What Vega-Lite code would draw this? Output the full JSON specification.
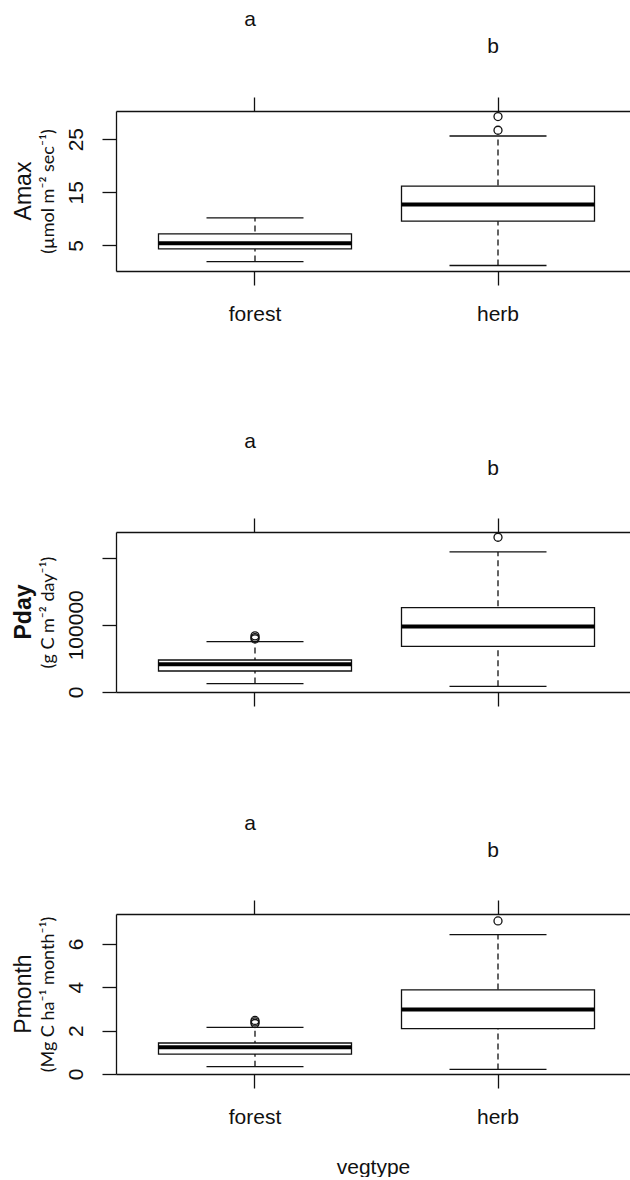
{
  "$schema": "https://vega.github.io/schema/vega-lite/v6.json",
  "padding": {"left": 12, "top": 9, "right": 0, "bottom": 0},
  "spacing": 106,
  "background": "white",
  "config": {
    "view": {"stroke": null},
    "font": "Liberation Sans",
    "axis": {
      "domainColor": "#111", "domainWidth": 1.3,
      "tickColor": "#111", "tickWidth": 1.3, "tickSize": 14,
      "labelColor": "#111", "labelFontSize": 21, "labelFont": "Liberation Sans",
      "titleColor": "#111", "grid": false, "labelFlush": false, "labelOverlap": false
    },
    "axisY": {
      "orient": "left", "labelAngle": -90, "labelAlign": "center", "labelBaseline": "alphabetic", "labelPadding": 20,
      "titleFont": "Lato", "titleFontSize": 18, "titleFontWeight": "normal", "titlePadding": 12, "titleBaseline": "alphabetic"
    }
  },
  "datasets": {
    "amax_stats": [
      {"vegtype": "forest", "lower": 1.98, "q1": 4.36, "median": 5.43, "q3": 7.19, "upper": 10.2},
      {"vegtype": "herb", "lower": 1.23, "q1": 9.58, "median": 12.73, "q3": 16.18, "upper": 25.6}
    ],
    "amax_out": [
      {"vegtype": "herb", "value": 26.68},
      {"vegtype": "herb", "value": 29.25}
    ],
    "amax_letters": [
      {"vegtype": "forest", "letter": "a", "y": 46.2},
      {"vegtype": "herb", "letter": "b", "y": 41.2}
    ],
    "pday_stats": [
      {"vegtype": "forest", "lower": 12500, "q1": 31250, "median": 41200, "q3": 47600, "upper": 75000},
      {"vegtype": "herb", "lower": 8500, "q1": 68000, "median": 97300, "q3": 125600, "upper": 208300}
    ],
    "pday_out": [
      {"vegtype": "forest", "value": 79000},
      {"vegtype": "forest", "value": 81000},
      {"vegtype": "forest", "value": 83500},
      {"vegtype": "herb", "value": 230200}
    ],
    "pday_letters": [
      {"vegtype": "forest", "letter": "a", "y": 363000},
      {"vegtype": "herb", "letter": "b", "y": 323500}
    ],
    "pmonth_stats": [
      {"vegtype": "forest", "lower": 0.34, "q1": 0.92, "median": 1.23, "q3": 1.43, "upper": 2.15},
      {"vegtype": "herb", "lower": 0.21, "q1": 2.09, "median": 2.98, "q3": 3.88, "upper": 6.43}
    ],
    "pmonth_out": [
      {"vegtype": "forest", "value": 2.33},
      {"vegtype": "forest", "value": 2.4},
      {"vegtype": "forest", "value": 2.47},
      {"vegtype": "herb", "value": 7.06}
    ],
    "pmonth_letters": [
      {"vegtype": "forest", "letter": "a", "y": 11.25},
      {"vegtype": "herb", "letter": "b", "y": 10.02}
    ]
  },
  "vconcat": [
    {
      "width": 514, "height": 160,
      "title": {"text": "Amax", "orient": "left", "frame": "group", "anchor": "middle", "fontSize": 23, "fontWeight": "normal", "font": "Liberation Sans", "color": "#111", "baseline": "alphabetic", "offset": -15},
      "data": {"name": "amax_stats"},
      "resolve": {"axis": {"x": "independent"}},
      "layer": [
        {
          "mark": {"type": "rule", "strokeDash": [6, 4], "strokeWidth": 1.3, "color": "#111"},
          "encoding": {
            "x": {"field": "vegtype", "type": "nominal", "scale": {"type": "band", "domain": ["forest", "herb"], "paddingInner": 0, "paddingOuter": 0.0576, "align": 0.625},
                  "axis": {"orient": "bottom", "title": null, "labelAngle": 0, "labelPadding": 18}},
            "y": {"field": "lower", "type": "quantitative", "scale": {"domain": [0.2, 30.3], "nice": false, "zero": false},
                  "axis": {"values": [5, 10, 15, 20, 25, 30], "labelExpr": "datum.value % 10 == 5 ? datum.label : ''", "title": "(µmol m⁻² sec⁻¹)"}},
            "y2": {"field": "upper"}
          }
        },
        {
          "mark": {"type": "bar", "width": 193, "fill": "white", "stroke": "#111", "strokeWidth": 1.3},
          "encoding": {
            "x": {"field": "vegtype", "type": "nominal", "axis": {"orient": "top", "labels": false, "title": null}},
            "y": {"field": "q1", "type": "quantitative"},
            "y2": {"field": "q3"}
          }
        },
        {
          "mark": {"type": "tick", "size": 193, "thickness": 4, "color": "#000", "opacity": 1},
          "encoding": {
            "x": {"field": "vegtype", "type": "nominal", "axis": null},
            "y": {"field": "median", "type": "quantitative"}
          }
        },
        {
          "mark": {"type": "tick", "size": 97, "thickness": 1.3, "color": "#111", "opacity": 1},
          "encoding": {
            "x": {"field": "vegtype", "type": "nominal", "axis": null},
            "y": {"field": "lower", "type": "quantitative"}
          }
        },
        {
          "mark": {"type": "tick", "size": 97, "thickness": 1.3, "color": "#111", "opacity": 1},
          "encoding": {
            "x": {"field": "vegtype", "type": "nominal", "axis": null},
            "y": {"field": "upper", "type": "quantitative"}
          }
        },
        {
          "data": {"name": "amax_out"},
          "mark": {"type": "point", "shape": "circle", "filled": false, "size": 64, "strokeWidth": 1.3, "color": "#111", "opacity": 1},
          "encoding": {
            "x": {"field": "vegtype", "type": "nominal", "axis": null},
            "y": {"field": "value", "type": "quantitative"}
          }
        },
        {
          "data": {"name": "amax_letters"},
          "mark": {"type": "text", "fontSize": 21, "baseline": "alphabetic", "align": "center", "dx": -5, "color": "#111"},
          "encoding": {
            "x": {"field": "vegtype", "type": "nominal", "axis": null},
            "y": {"field": "y", "type": "quantitative"},
            "text": {"field": "letter"}
          }
        }
      ]
    },
    {
      "width": 514, "height": 160,
      "title": {"text": "Pday", "orient": "left", "frame": "group", "anchor": "middle", "fontSize": 23, "fontWeight": "bold", "font": "Liberation Sans", "color": "#111", "baseline": "alphabetic", "offset": -15},
      "data": {"name": "pday_stats"},
      "resolve": {"axis": {"x": "independent"}},
      "layer": [
        {
          "mark": {"type": "rule", "strokeDash": [6, 4], "strokeWidth": 1.3, "color": "#111"},
          "encoding": {
            "x": {"field": "vegtype", "type": "nominal", "scale": {"type": "band", "domain": ["forest", "herb"], "paddingInner": 0, "paddingOuter": 0.0576, "align": 0.625},
                  "axis": {"orient": "bottom", "title": null, "labels": false}},
            "y": {"field": "lower", "type": "quantitative", "scale": {"domain": [0, 238000], "nice": false, "zero": false},
                  "axis": {"values": [0, 50000, 100000, 150000, 200000], "labelExpr": "datum.value == 0 || datum.value == 100000 ? format(datum.value, 'd') : ''", "title": "(g C m⁻² day⁻¹)"}},
            "y2": {"field": "upper"}
          }
        },
        {
          "mark": {"type": "bar", "width": 193, "fill": "white", "stroke": "#111", "strokeWidth": 1.3},
          "encoding": {
            "x": {"field": "vegtype", "type": "nominal", "axis": {"orient": "top", "labels": false, "title": null}},
            "y": {"field": "q1", "type": "quantitative"},
            "y2": {"field": "q3"}
          }
        },
        {
          "mark": {"type": "tick", "size": 193, "thickness": 4, "color": "#000", "opacity": 1},
          "encoding": {
            "x": {"field": "vegtype", "type": "nominal", "axis": null},
            "y": {"field": "median", "type": "quantitative"}
          }
        },
        {
          "mark": {"type": "tick", "size": 97, "thickness": 1.3, "color": "#111", "opacity": 1},
          "encoding": {
            "x": {"field": "vegtype", "type": "nominal", "axis": null},
            "y": {"field": "lower", "type": "quantitative"}
          }
        },
        {
          "mark": {"type": "tick", "size": 97, "thickness": 1.3, "color": "#111", "opacity": 1},
          "encoding": {
            "x": {"field": "vegtype", "type": "nominal", "axis": null},
            "y": {"field": "upper", "type": "quantitative"}
          }
        },
        {
          "data": {"name": "pday_out"},
          "mark": {"type": "point", "shape": "circle", "filled": false, "size": 64, "strokeWidth": 1.3, "color": "#111", "opacity": 1},
          "encoding": {
            "x": {"field": "vegtype", "type": "nominal", "axis": null},
            "y": {"field": "value", "type": "quantitative"}
          }
        },
        {
          "data": {"name": "pday_letters"},
          "mark": {"type": "text", "fontSize": 21, "baseline": "alphabetic", "align": "center", "dx": -5, "color": "#111"},
          "encoding": {
            "x": {"field": "vegtype", "type": "nominal", "axis": null},
            "y": {"field": "y", "type": "quantitative"},
            "text": {"field": "letter"}
          }
        }
      ]
    },
    {
      "width": 514, "height": 160,
      "title": {"text": "Pmonth", "orient": "left", "frame": "group", "anchor": "middle", "fontSize": 23, "fontWeight": "normal", "font": "Liberation Sans", "color": "#111", "baseline": "alphabetic", "offset": -15},
      "data": {"name": "pmonth_stats"},
      "resolve": {"axis": {"x": "independent"}},
      "layer": [
        {
          "mark": {"type": "rule", "strokeDash": [6, 4], "strokeWidth": 1.3, "color": "#111"},
          "encoding": {
            "x": {"field": "vegtype", "type": "nominal", "scale": {"type": "band", "domain": ["forest", "herb"], "paddingInner": 0, "paddingOuter": 0.0576, "align": 0.625},
                  "axis": {"orient": "bottom", "title": "vegtype", "titleFontSize": 21, "titleFontWeight": "normal", "titleFont": "Liberation Sans", "titlePadding": 29, "labelAngle": 0, "labelPadding": 18}},
            "y": {"field": "lower", "type": "quantitative", "scale": {"domain": [0, 7.38], "nice": false, "zero": false},
                  "axis": {"values": [0, 1, 2, 3, 4, 5, 6, 7], "labelExpr": "datum.value % 2 == 0 ? datum.label : ''", "title": "(Mg C ha⁻¹ month⁻¹)"}},
            "y2": {"field": "upper"}
          }
        },
        {
          "mark": {"type": "bar", "width": 193, "fill": "white", "stroke": "#111", "strokeWidth": 1.3},
          "encoding": {
            "x": {"field": "vegtype", "type": "nominal", "axis": {"orient": "top", "labels": false, "title": null}},
            "y": {"field": "q1", "type": "quantitative"},
            "y2": {"field": "q3"}
          }
        },
        {
          "mark": {"type": "tick", "size": 193, "thickness": 4, "color": "#000", "opacity": 1},
          "encoding": {
            "x": {"field": "vegtype", "type": "nominal", "axis": null},
            "y": {"field": "median", "type": "quantitative"}
          }
        },
        {
          "mark": {"type": "tick", "size": 97, "thickness": 1.3, "color": "#111", "opacity": 1},
          "encoding": {
            "x": {"field": "vegtype", "type": "nominal", "axis": null},
            "y": {"field": "lower", "type": "quantitative"}
          }
        },
        {
          "mark": {"type": "tick", "size": 97, "thickness": 1.3, "color": "#111", "opacity": 1},
          "encoding": {
            "x": {"field": "vegtype", "type": "nominal", "axis": null},
            "y": {"field": "upper", "type": "quantitative"}
          }
        },
        {
          "data": {"name": "pmonth_out"},
          "mark": {"type": "point", "shape": "circle", "filled": false, "size": 64, "strokeWidth": 1.3, "color": "#111", "opacity": 1},
          "encoding": {
            "x": {"field": "vegtype", "type": "nominal", "axis": null},
            "y": {"field": "value", "type": "quantitative"}
          }
        },
        {
          "data": {"name": "pmonth_letters"},
          "mark": {"type": "text", "fontSize": 21, "baseline": "alphabetic", "align": "center", "dx": -5, "color": "#111"},
          "encoding": {
            "x": {"field": "vegtype", "type": "nominal", "axis": null},
            "y": {"field": "y", "type": "quantitative"},
            "text": {"field": "letter"}
          }
        }
      ]
    }
  ]
}
